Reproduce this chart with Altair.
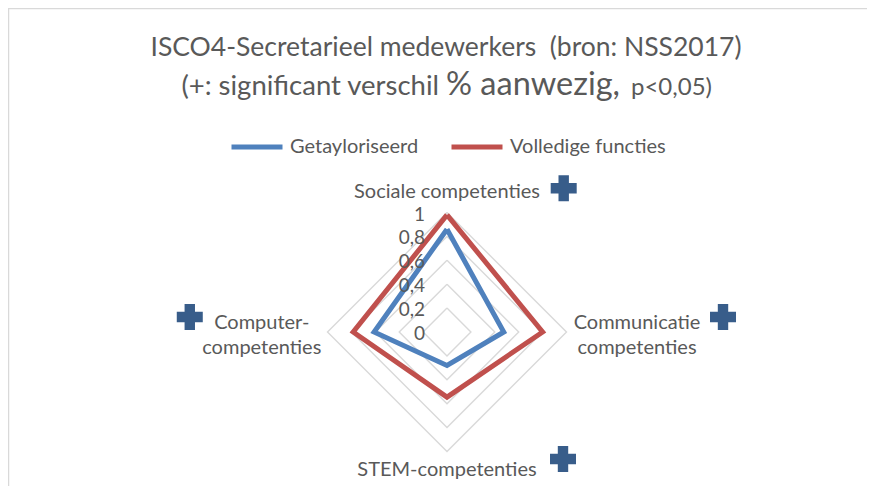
import altair as alt
import pandas as pd
import numpy as np

# ---------------- data ----------------
categories = ["Sociale competenties", "Communicatie competenties", "STEM-competenties", "Computer-competenties"]
category_display = ["Sociale competenties", "Communicatie\ncompetenties", "STEM-competenties", "Computer-\ncompetenties"]
series_names = ["Getayloriseerd", "Volledige functies"]
getayloriseerd = [0.86, 0.475, 0.28, 0.61]
volledige_functies = [0.98, 0.80, 0.545, 0.785]
significant = [True, True, True, True]
ring_values = [0.2, 0.4, 0.6, 0.8, 1.0]
tick_values = [0.0, 0.2, 0.4, 0.6, 0.8, 1.0]
tick_labels = ["0", "0,2", "0,4", "0,6", "0,8", "1"]

title_line1 = "ISCO4-Secretarieel medewerkers \u00a0(bron: NSS2017)"
title_line2 = ["(+: significant verschil", "% aanwezig,", "p<0,05)"]

# ---------------- layout helpers ----------------
W, H = 859, 478
PX = 119.5            # pixels per unit of radius
CX, CY = 439, 324     # centre of radar in pixels
xdom = [-CX / PX, (W - CX) / PX]
ydom = [(CY - H) / PX, CY / PX]

TEXT = "#595959"
FONT = "Lato"

n = len(categories)
angles = [np.pi / 2 - i * 2 * np.pi / n for i in range(n)]

xs = alt.Scale(domain=xdom, range=[0, W], nice=False, zero=False)
ys = alt.Scale(domain=ydom, range=[H, 0], nice=False, zero=False)

# rings
ring_rows = []
for v in ring_values:
    for k in range(n + 1):
        a = angles[k % n]
        ring_rows.append({"ring": v, "k": k, "x": v * np.cos(a), "y": v * np.sin(a)})
ring_df = pd.DataFrame(ring_rows)

# series
ser_rows = []
for name, vals in zip(series_names, [getayloriseerd, volledige_functies]):
    for k in range(n + 1):
        a = angles[k % n]
        v = vals[k % n]
        ser_rows.append({"serie": name, "k": k, "x": v * np.cos(a), "y": v * np.sin(a),
                         "categorie": categories[k % n], "waarde": v})
ser_df = pd.DataFrame(ser_rows)

# tick labels along top axis
tick_df = pd.DataFrame({"x": [0.0] * len(tick_values), "y": tick_values, "label": tick_labels})

# category labels
label_r = [1.17, 1.59, 1.155, 1.55]
label_lift = [0, 9, 0, 9]   # pixels
lab_df = pd.DataFrame({
    "label": category_display,
    "x": [r * np.cos(a) for r, a in zip(label_r, angles)],
    "y": [r * np.sin(a) + l / PX for r, a, l in zip(label_r, angles, label_lift)],
})

# significance markers (placed beside the category labels)
plus_off = [(116.7, 4), (86, 6), (116, 11), (-72, 6)]
plus_df = pd.DataFrame({
    "x": [lab_df.x[i] + plus_off[i][0] / PX for i in range(n) if significant[i]],
    "y": [lab_df.y[i] + plus_off[i][1] / PX for i in range(n) if significant[i]],
})

# ---------------- layers ----------------
rings = alt.Chart(ring_df).mark_line(color="#d9d9d9", strokeWidth=1.4).encode(
    x=alt.X("x:Q", scale=xs, axis=None),
    y=alt.Y("y:Q", scale=ys, axis=None),
    detail="ring:N",
    order="k:Q",
)

lines = alt.Chart(ser_df).mark_line(strokeWidth=5, strokeJoin="miter").encode(
    x=alt.X("x:Q", scale=xs, axis=None),
    y=alt.Y("y:Q", scale=ys, axis=None),
    order="k:Q",
    color=alt.Color("serie:N",
                    scale=alt.Scale(domain=series_names, range=["#4F81BD", "#C0504D"]),
                    legend=alt.Legend(title=None, orient="none", direction="horizontal",
                                      legendX=221, legendY=111,
                                      symbolType="stroke", symbolSize=2601, symbolStrokeWidth=5,
                                      labelFontSize=20, labelFont=FONT, labelColor=TEXT,
                                      labelOffset=5, columnPadding=22, labelLimit=400)),
)

ticks = alt.Chart(tick_df).mark_text(align="right", baseline="middle", dx=-22, dy=2,
                                     fontSize=19, font=FONT, color=TEXT).encode(
    x=alt.X("x:Q", scale=xs, axis=None),
    y=alt.Y("y:Q", scale=ys, axis=None),
    text="label:N",
)

labels = alt.Chart(lab_df).mark_text(align="center", baseline="middle", lineBreak="\n",
                                     lineHeight=25, fontSize=20, font=FONT, color=TEXT).encode(
    x=alt.X("x:Q", scale=xs, axis=None),
    y=alt.Y("y:Q", scale=ys, axis=None),
    text="label:N",
)

pluses = alt.Chart(plus_df).mark_point(shape="cross", filled=True, size=676,
                                       color="#385D8A", opacity=1, strokeWidth=0).encode(
    x=alt.X("x:Q", scale=xs, axis=None),
    y=alt.Y("y:Q", scale=ys, axis=None),
)

title_df = pd.DataFrame({"t": [title_line1]})
t1 = alt.Chart(title_df).mark_text(align="center", baseline="alphabetic", fontSize=26.5,
                                   font=FONT, color=TEXT).encode(
    x=alt.value(438), y=alt.value(48), text="t:N")

t2a = alt.Chart(pd.DataFrame({"t": [title_line2[0]]})).mark_text(
    align="right", baseline="alphabetic", fontSize=27.5, font=FONT, color=TEXT).encode(
    x=alt.value(431), y=alt.value(87), text="t:N")
t2b = alt.Chart(pd.DataFrame({"t": [title_line2[1]]})).mark_text(
    align="left", baseline="alphabetic", fontSize=32.5, font=FONT, color=TEXT).encode(
    x=alt.value(438), y=alt.value(87), text="t:N")
t2c = alt.Chart(pd.DataFrame({"t": [title_line2[2]]})).mark_text(
    align="left", baseline="alphabetic", fontSize=24, font=FONT, color=TEXT).encode(
    x=alt.value(623), y=alt.value(87), text="t:N")

frame_top = alt.Chart(title_df).mark_rule(color="#d9d9d9", strokeWidth=1.5).encode(
    x=alt.value(0), x2=alt.value(W), y=alt.value(0.5))
frame_left = alt.Chart(title_df).mark_rule(color="#d9d9d9", strokeWidth=1.5).encode(
    x=alt.value(0.5), y=alt.value(0), y2=alt.value(H))

chart = alt.layer(frame_top, frame_left, rings, lines, ticks, labels, pluses, t1, t2a, t2b, t2c).properties(
    width=W, height=H, padding=0,
    autosize=alt.AutoSizeParams(type="none"),
).configure_view(stroke=None).configure(background="white")

chart.save("out.html", embed_options={"renderer": "svg", "actions": False})
